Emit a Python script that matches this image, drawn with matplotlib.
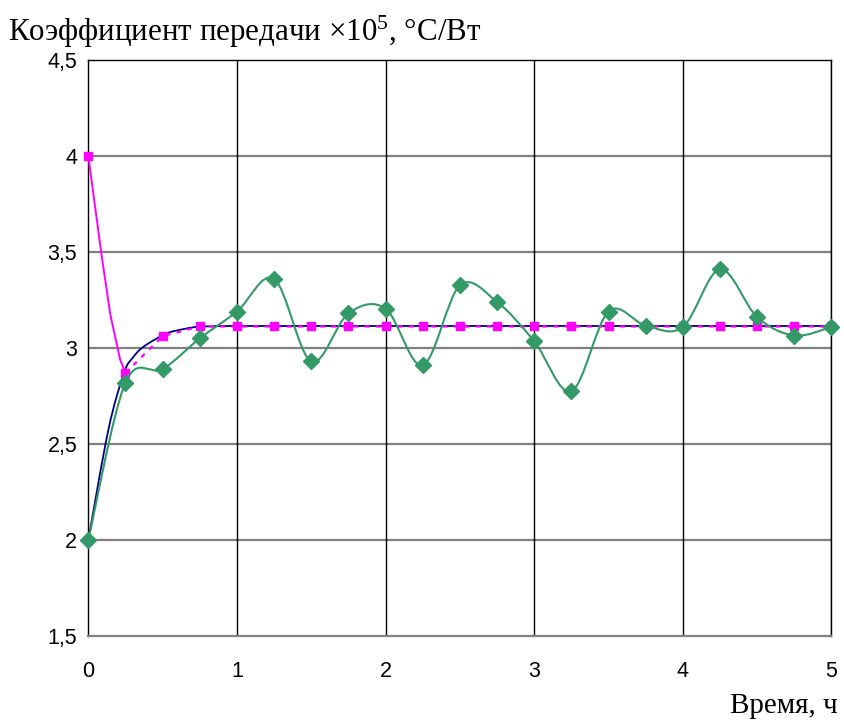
import numpy as np
import matplotlib
matplotlib.use("Agg")
import matplotlib.pyplot as plt
from matplotlib.path import Path
from matplotlib.patches import PathPatch

# ---- data ----
t_grid = [0, 0.25, 0.5, 0.75, 1.0, 1.25, 1.5, 1.75, 2.0, 2.25, 2.5, 2.75,
          3.0, 3.25, 3.5, 3.75, 4.0, 4.25, 4.5, 4.75, 5.0]
green_vals = [2.0, 2.82, 2.89, 3.05, 3.19, 3.36, 2.93, 3.18, 3.205, 2.91, 3.326, 3.24,
              3.035, 2.775, 3.19, 3.117, 3.109, 3.41, 3.161, 3.065, 3.109]
magenta_vals = [4.0, 2.87, 3.062, 3.112, 3.112, 3.112, 3.112, 3.112, 3.112, 3.112, 3.112,
                3.112, 3.112, 3.112, 3.112, 3.112, 3.112, 3.112, 3.112, 3.112, 3.112]
magenta_start_t = [0, 0.09, 0.147, 0.169, 0.214, 0.25]
magenta_start_v = [4.0, 3.48, 3.18, 3.10, 2.94, 2.87]
navy_t = [0, 0.135, 0.24, 0.30, 0.36, 0.45, 0.54, 0.65, 0.75, 0.85]
navy_v = [2.0, 2.574, 2.87, 2.95, 3.0, 3.045, 3.08, 3.10, 3.112, 3.112]
navy_tail_t = [0.85, 5.0]
navy_tail_v = [3.112, 3.112]
y_ticks = [1.5, 2, 2.5, 3, 3.5, 4, 4.5]
y_ticklabels = ["1,5", "2", "2,5", "3", "3,5", "4", "4,5"]
x_ticks = [0, 1, 2, 3, 4, 5]
title_text = "Коэффициент передачи ×$\\mathregular{10^5}$, °C/Вт"
xlabel_text = "Время, ч"

GREEN = "#339966"
NAVY = "#000080"
MAGENTA = "#FF00FF"


def smooth_path(xs, ys):
    pts = np.column_stack([xs, ys]).astype(float)
    n = len(pts)
    verts = [pts[0]]
    codes = [Path.MOVETO]
    for i in range(n - 1):
        p0 = pts[i - 1] if i > 0 else pts[i]
        p1 = pts[i]
        p2 = pts[i + 1]
        p3 = pts[i + 2] if i + 2 < n else pts[i + 1]
        c1 = p1 + (p2 - p0) / 6.0
        c2 = p2 - (p3 - p1) / 6.0
        verts += [c1, c2, p2]
        codes += [Path.CURVE4] * 3
    return Path(verts, codes)


plt.rcParams['font.family'] = ['Liberation Sans', 'DejaVu Sans']
fig = plt.figure(figsize=(8.45, 7.22), dpi=100)
ax = fig.add_axes([0.1045, 0.1191, 0.8795, 0.7978])
ax.set_xlim(0, 5)
ax.set_ylim(1.5, 4.5)

# grid
for yv in y_ticks[1:-1]:
    ax.axhline(yv, color="#808080", lw=1.6, zorder=1)
for xv in x_ticks[1:]:
    ax.axvline(xv, color="black", lw=1.0, zorder=1)

# navy line
ax.add_patch(PathPatch(smooth_path(navy_t, navy_v), fill=False, edgecolor=NAVY,
                       lw=1.3, zorder=3))
ax.plot(navy_tail_t, navy_tail_v, color=NAVY, lw=1.3, zorder=3)
# magenta solid start
ax.plot(magenta_start_t, magenta_start_v, color=MAGENTA, lw=1.4, zorder=4)
# magenta dashed + squares
ax.plot(t_grid[1:], magenta_vals[1:], color=MAGENTA, lw=1.6, ls=(0, (2.2, 2.8)), zorder=4)
ax.plot(t_grid, magenta_vals, ls="none", marker="s", ms=5.6, color=MAGENTA,
        zorder=5, clip_on=False)
# green smoothed line + diamonds
ax.add_patch(PathPatch(smooth_path(t_grid, green_vals), fill=False, edgecolor=GREEN,
                       lw=1.5, zorder=6))
ax.plot(t_grid, green_vals, ls="none", marker="D", ms=8.6, color=GREEN,
        zorder=7, clip_on=False)

# spines
for s in ["top", "right", "left"]:
    ax.spines[s].set_color("black")
    ax.spines[s].set_linewidth(1.0)
ax.spines["bottom"].set_color("#808080")
ax.spines["bottom"].set_linewidth(1.6)

ax.set_yticks(y_ticks)
ax.set_yticklabels(y_ticklabels)
ax.set_xticks(x_ticks)
ax.set_xticklabels([str(v) for v in x_ticks])
ax.tick_params(axis="both", length=0, labelsize=15.5, colors="black")
ax.tick_params(axis="y", pad=8)
ax.tick_params(axis="x", pad=18)

fig.text(8 / 845, 1 - 41 / 722, title_text, fontsize=22.3,
         family=["Liberation Serif", "DejaVu Serif"], ha="left", va="baseline")
fig.text(838 / 845, 1 - 713 / 722, xlabel_text, fontsize=21,
         family=["Liberation Serif", "DejaVu Serif"], ha="right", va="baseline")

fig.savefig("out.png", dpi=100)
